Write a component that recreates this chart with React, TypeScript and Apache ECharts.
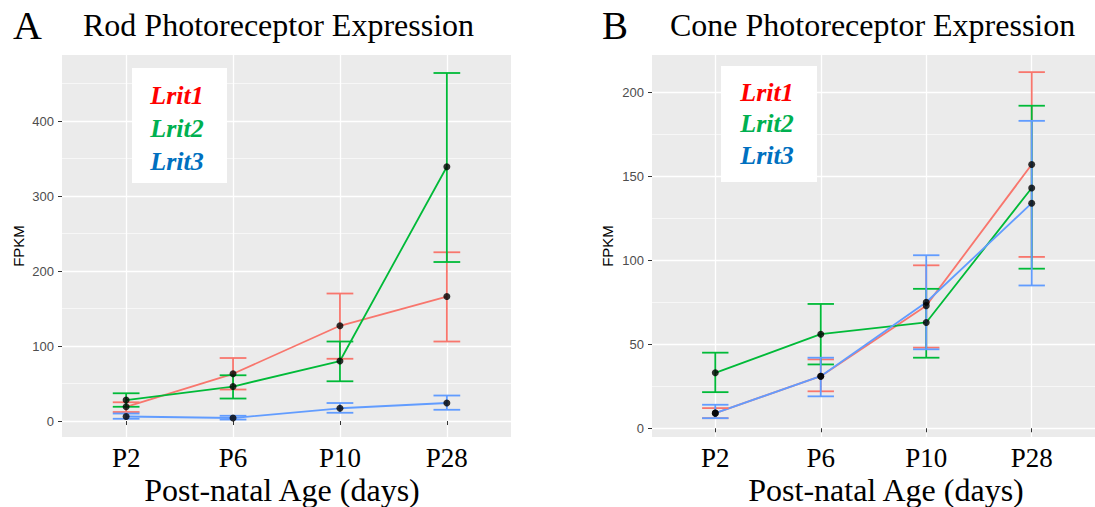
import React, { useEffect, useRef } from "react";
import * as echarts from "echarts";

const categories = ["P2", "P6", "P10", "P28"];
const geneNames = ["Lrit1", "Lrit2", "Lrit3"];
const lineColors = ["#F8766D", "#00BA38", "#619CFF"];
const legendColors = ["#FF0000", "#00B050", "#0070C0"];

// Rod photoreceptor expression (FPKM) — per gene, per age
const rodMean = [
  [19, 63, 127, 166],
  [28, 46, 80, 339],
  [6, 4, 17, 24],
];
const rodLower = [
  [12, 42, 83, 106],
  [19, 30, 53, 212],
  [3, 2, 11, 15],
];
const rodUpper = [
  [25, 84, 170, 225],
  [37, 61, 106, 464],
  [10, 7, 24, 34],
];

// Cone photoreceptor expression (FPKM)
const coneMean = [
  [9, 31, 73, 157],
  [33, 56, 63, 143],
  [9, 31, 75, 134],
];
const coneLower = [
  [6, 22, 48, 102],
  [21.5, 38, 42, 95],
  [6, 19, 47, 85],
];
const coneUpper = [
  [12, 41, 97, 212],
  [45, 74, 83, 192],
  [14, 42, 103, 183],
];

const rodTicks = [0, 100, 200, 300, 400];
const rodMinorTicks = [50, 150, 250, 350, 450];
const coneTicks = [0, 50, 100, 150, 200];
const coneMinorTicks = [25, 75, 125, 175];

const SERIF = "'Liberation Serif', 'Times New Roman', serif";
const SANS = "'Liberation Sans', Arial, sans-serif";

function buildPanel(
  gi: number,
  mean: number[][],
  lower: number[][],
  upper: number[][]
) {
  const series: any[] = [];
  const xi = gi;
  const yi = gi * 2;
  geneNames.forEach((name, s) => {
    series.push({
      type: "line",
      name,
      xAxisIndex: xi,
      yAxisIndex: yi,
      data: mean[s].map((v, i) => [i + 1, v]),
      showSymbol: false,
      symbol: "none",
      lineStyle: { color: lineColors[s], width: 1.8 },
      z: 2,
      silent: true,
    });
  });
  geneNames.forEach((name, s) => {
    const color = lineColors[s];
    series.push({
      type: "custom",
      name: name + " error",
      xAxisIndex: xi,
      yAxisIndex: yi,
      data: lower[s].map((lo, i) => [i + 1, lo, upper[s][i]]),
      encode: { x: 0, y: [1, 2] },
      z: 3,
      silent: true,
      renderItem: (params: any, api: any) => {
        const x = api.value(0);
        const lo = api.value(1);
        const hi = api.value(2);
        const pLo = api.coord([x, lo]);
        const pHi = api.coord([x, hi]);
        const hw = api.size([0.25, 0])[0] / 2;
        const style = { stroke: color, lineWidth: 1.8, fill: null };
        return {
          type: "group",
          children: [
            { type: "line", shape: { x1: pLo[0], y1: pLo[1], x2: pHi[0], y2: pHi[1] }, style },
            { type: "line", shape: { x1: pLo[0] - hw, y1: pLo[1], x2: pLo[0] + hw, y2: pLo[1] }, style },
            { type: "line", shape: { x1: pHi[0] - hw, y1: pHi[1], x2: pHi[0] + hw, y2: pHi[1] }, style },
          ],
        };
      },
    });
  });
  geneNames.forEach((name, s) => {
    series.push({
      type: "scatter",
      name: name + " mean",
      xAxisIndex: xi,
      yAxisIndex: yi,
      data: mean[s].map((v, i) => [i + 1, v]),
      symbol: "circle",
      symbolSize: 7,
      itemStyle: { color: "#000000" },
      z: 4,
      silent: true,
    });
  });
  return series;
}

function xAxisFor(gi: number) {
  return {
    type: "value",
    gridIndex: gi,
    min: 0.4,
    max: 4.6,
    axisLine: { show: false },
    axisTick: {
      show: true,
      customValues: [1, 2, 3, 4],
      length: 4,
      lineStyle: { color: "#333333", width: 1 },
    },
    axisLabel: {
      show: true,
      customValues: [1, 2, 3, 4],
      formatter: (v: number) => categories[Math.round(v) - 1] ?? "",
      fontFamily: SERIF,
      fontSize: 27,
      color: "#000000",
      margin: 7,
    },
    splitLine: { show: true, lineStyle: { color: "#FFFFFF", width: 1.3 } },
  };
}

function yAxesFor(gi: number, min: number, max: number, ticks: number[], minor: number[]) {
  return [
    {
      type: "value",
      gridIndex: gi,
      min,
      max,
      axisLine: { show: false },
      axisTick: {
        show: true,
        customValues: ticks,
        length: 4,
        lineStyle: { color: "#333333", width: 1 },
      },
      axisLabel: {
        show: true,
        customValues: ticks,
        fontFamily: SANS,
        fontSize: 13,
        color: "#4D4D4D",
        margin: 8,
      },
      splitLine: { show: true, lineStyle: { color: "#FFFFFF", width: 1.3 } },
    },
    {
      type: "value",
      gridIndex: gi,
      min,
      max,
      position: "left",
      axisLine: { show: false },
      axisTick: { show: false, customValues: minor },
      axisLabel: { show: false, customValues: minor },
      splitLine: { show: true, lineStyle: { color: "#FFFFFF", width: 0.6 } },
    },
  ];
}

function legendBox(x: number, y: number, w: number, h: number, cx: number, ys: number[]) {
  return [
    { type: "rect", shape: { x, y, width: w, height: h }, style: { fill: "#FFFFFF" }, z: 10 },
    ...geneNames.map((name, i) => ({
      type: "text",
      x: cx,
      y: ys[i],
      z: 11,
      style: {
        text: name,
        fill: legendColors[i],
        font: `italic bold 26px ${SERIF}`,
        align: "center",
        verticalAlign: "middle",
      },
    })),
  ];
}

export default function App() {
  const ref = useRef<HTMLDivElement>(null);
  useEffect(() => {
    if (!ref.current) return;
    const chart = echarts.init(ref.current, null, { renderer: "svg" });
    const option: any = {
      animation: false,
      backgroundColor: "#FFFFFF",
      grid: [
        { left: 62, top: 55, width: 449, height: 382, show: true, backgroundColor: "#EBEBEB", borderWidth: 0 },
        { left: 652, top: 55, width: 449, height: 382, show: true, backgroundColor: "#EBEBEB", borderWidth: 0 },
      ],
      xAxis: [xAxisFor(0), xAxisFor(1)],
      yAxis: [
        ...yAxesFor(0, -21.3, 488, rodTicks, rodMinorTicks),
        ...yAxesFor(1, -5.2, 222.2, coneTicks, coneMinorTicks),
      ],
      series: [
        ...buildPanel(0, rodMean, rodLower, rodUpper),
        ...buildPanel(1, coneMean, coneLower, coneUpper),
      ],
      graphic: [
        { type: "text", x: 13, y: 25, style: { text: "A", font: `40px ${SERIF}`, fill: "#000", verticalAlign: "middle" } },
        { type: "text", x: 83, y: 25, style: { text: "Rod Photoreceptor Expression", font: `32px ${SERIF}`, fill: "#000", verticalAlign: "middle" } },
        { type: "text", x: 602, y: 25, style: { text: "B", font: `39px ${SERIF}`, fill: "#000", verticalAlign: "middle" } },
        { type: "text", x: 670, y: 25, style: { text: "Cone Photoreceptor Expression", font: `32px ${SERIF}`, fill: "#000", verticalAlign: "middle" } },
        { type: "text", x: 282, y: 490, style: { text: "Post-natal Age (days)", font: `32px ${SERIF}`, fill: "#000", align: "center", verticalAlign: "middle" } },
        { type: "text", x: 886, y: 490, style: { text: "Post-natal Age (days)", font: `32px ${SERIF}`, fill: "#000", align: "center", verticalAlign: "middle" } },
        { type: "text", x: 18, y: 246, rotation: Math.PI / 2, style: { text: "FPKM", font: `15px ${SANS}`, fill: "#000", align: "center", verticalAlign: "middle" } },
        { type: "text", x: 607, y: 246, rotation: Math.PI / 2, style: { text: "FPKM", font: `15px ${SANS}`, fill: "#000", align: "center", verticalAlign: "middle" } },
        ...legendBox(132, 68, 95, 115, 177, [95, 128, 161]),
        ...legendBox(721, 66, 96, 116, 767, [92, 123, 155]),
      ],
    };
    chart.setOption(option);
    return () => chart.dispose();
  }, []);
  return (
    <div
      ref={ref}
      style={{ position: "fixed", left: 0, top: 0, width: 1095, height: 507 }}
    />
  );
}
